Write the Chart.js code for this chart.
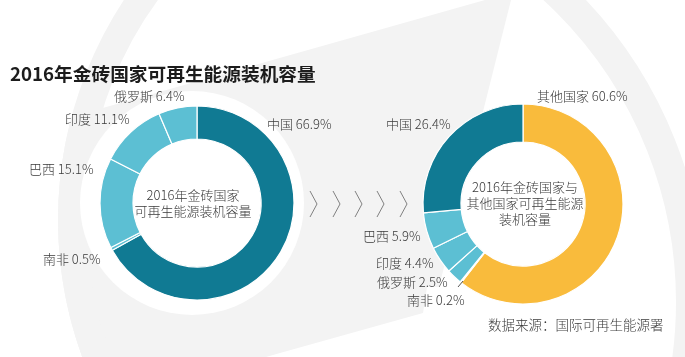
<!DOCTYPE html>
<html>
<head>
<meta charset="utf-8">
<script src="https://cdn.jsdelivr.net/npm/chart.js@4/dist/chart.umd.min.js"></script>
<style>
  html, body { margin: 0; padding: 0; }
  body { width: 685px; height: 357px; position: relative; overflow: hidden; background: #fff;
         font-family: "Noto Sans CJK SC", "Noto Sans", sans-serif; color: #3a3a3a; }
  #bg { position: absolute; left: 0; top: 0; }
  .abs { position: absolute; white-space: nowrap; line-height: 1; }
  .lbl { font-size: 13px; font-weight: 300; transform: translateY(-50%); }
  .ctr { font-size: 13px; font-weight: 300; line-height: 16px; text-align: center; transform: translate(-50%, -50%); }
  #title { left: 10px; top: 73px; font-size: 18.7px; font-weight: 700; color: #1c1c1c; transform: translateY(-50%); }
  #src { left: 488px; top: 318px; font-size: 13.5px; font-weight: 300; }
  #cl { position: absolute; left: 97px; top: 103px; }
  #cr { position: absolute; left: 418px; top: 99px; }
  svg { position: absolute; left: 0; top: 0; }
</style>
</head>
<body>
<canvas id="bg" width="685" height="357"></canvas>
<canvas id="cl" width="200" height="200"></canvas>
<canvas id="cr" width="210" height="210"></canvas>
<svg width="685" height="357" id="deco"></svg>
<div id="title" class="abs">2016年金砖国家可再生能源装机容量</div>
<div id="labels"></div>
<div id="src" class="abs">数据来源：国际可再生能源署</div>
<script>
// ---- data ----
const leftLabels = ['中国', '南非', '巴西', '印度', '俄罗斯'];
const leftValues = [66.9, 0.5, 15.1, 11.1, 6.4];
const rightLabels = ['其他国家', '南非', '俄罗斯', '印度', '巴西', '中国'];
const rightValues = [60.6, 0.2, 2.5, 4.4, 5.9, 26.4];
const leftCenterText = ['2016年金砖国家', '可再生能源装机容量'];
const rightCenterText = ['2016年金砖国家与', '其他国家可再生能源', '装机容量'];

// ---- styles ----
const DARK = '#107a93', LIGHT = '#5cbfd3', YELLOW = '#f9bb3c';
function colorFor(name) { return name === '中国' ? DARK : (name === '其他国家' ? YELLOW : LIGHT); }

// ---- decorative background ----
(function () {
  const c = document.getElementById('bg').getContext('2d');
  const G = '#f3f3f3';
  c.fillStyle = '#fff'; c.fillRect(0, 0, 685, 357);
  c.fillStyle = G;
  c.beginPath();
  [[485,0],[511,0],[439,287],[427,287],[423,313],[280,353],[266,357],[0,357],[0,137]].forEach((p,i)=> i? c.lineTo(p[0],p[1]) : c.moveTo(p[0],p[1]));
  c.closePath(); c.fill();
  c.fillStyle = '#fff';
  c.beginPath(); c.rect(0,0,685,357); c.arc(458,220,400,0,Math.PI*2,true); c.fill('evenodd');
  c.strokeStyle = G; c.lineWidth = 28;
  c.beginPath(); c.arc(458,220,386,0,Math.PI*2); c.stroke();
  c.fillStyle = '#fff';
  c.beginPath(); c.arc(192,203,112,0,Math.PI*2); c.fill();
  c.strokeStyle = G; c.lineWidth = 30;
  c.beginPath(); c.arc(266,302,425,0,Math.PI*2); c.stroke();
})();

// ---- charts ----
function donut(id, labels, values, radius, cutout) {
  return new Chart(document.getElementById(id), {
    type: 'doughnut',
    data: { labels: labels, datasets: [{ data: values, backgroundColor: labels.map(colorFor),
            borderColor: '#ffffff', borderWidth: 1.2, hoverOffset: 0 }] },
    options: { responsive: false, animation: false, devicePixelRatio: 1, events: [],
               radius: radius, cutout: cutout, layout: { padding: 0 },
               plugins: { legend: { display: false }, tooltip: { enabled: false } } }
  });
}
donut('cl', leftLabels, leftValues, 97, '66%');
donut('cr', rightLabels, rightValues, 100, '62%');

// ---- labels ----
const lblPos = {
  left: { '俄罗斯': [114, 95], '中国': [267, 123], '印度': [65, 118], '巴西': [29, 168], '南非': [43, 258] },
  right: { '其他国家': [537, 95], '中国': [386, 123], '巴西': [363, 235], '印度': [376, 262], '俄罗斯': [377, 281], '南非': [407, 299] }
};
const host = document.getElementById('labels');
function addLabels(labels, values, pos) {
  labels.forEach((n, i) => {
    const d = document.createElement('div');
    d.className = 'abs lbl';
    d.style.left = pos[n][0] + 'px'; d.style.top = pos[n][1] + 'px';
    d.textContent = n + ' ' + values[i].toFixed(1) + '%';
    host.appendChild(d);
  });
}
addLabels(leftLabels, leftValues, lblPos.left);
addLabels(rightLabels, rightValues, lblPos.right);
function addCenter(lines, x, y) {
  const d = document.createElement('div');
  d.className = 'abs ctr';
  d.style.left = x + 'px'; d.style.top = y + 'px';
  d.innerHTML = lines.join('<br>');
  host.appendChild(d);
}
addCenter(leftCenterText, 193, 203);
addCenter(rightCenterText, 525, 203);

// ---- chevrons & leader ----
const svg = document.getElementById('deco');
const NS = 'http://www.w3.org/2000/svg';
[310, 333, 355, 377, 400].forEach(x => {
  const p = document.createElementNS(NS, 'polyline');
  p.setAttribute('points', `${x},191 ${x + 7},204 ${x},217`);
  p.setAttribute('fill', 'none'); p.setAttribute('stroke', '#808080'); p.setAttribute('stroke-width', '1');
  svg.appendChild(p);
});
const ln = document.createElementNS(NS, 'line');
ln.setAttribute('x1', 458); ln.setAttribute('y1', 287); ln.setAttribute('x2', 463); ln.setAttribute('y2', 281);
ln.setAttribute('stroke', '#555'); ln.setAttribute('stroke-width', '1');
svg.appendChild(ln);
</script>
</body>
</html>
